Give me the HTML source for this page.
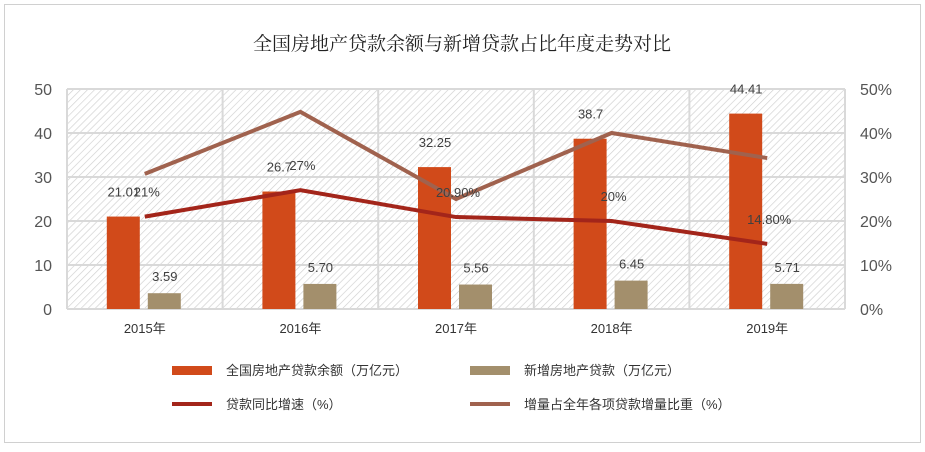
<!DOCTYPE html>
<html><head><meta charset="utf-8"><style>
body{margin:0;background:#fff;}
svg text{font-family:"Liberation Sans","Noto Sans CJK SC",sans-serif;}
svg text.title{font-family:"Liberation Serif","Noto Serif CJK SC",serif;}
</style></head><body>
<svg width="925" height="447" viewBox="0 0 925 447">
<defs>
<pattern id="hatch" width="5" height="5" patternUnits="userSpaceOnUse" patternTransform="rotate(45)">
<rect width="5" height="5" fill="#fff"/><line x1="0" y1="0" x2="0" y2="5" stroke="#cfcfcf" stroke-width="1.3"/>
</pattern>
</defs>
<rect x="4.5" y="4.5" width="916" height="438" fill="#fff" stroke="#d0d0d0"/>
<text class="title" x="462" y="50" text-anchor="middle" font-size="19" fill="#222" style="font-family:'Noto Serif CJK SC',serif">全国房地产贷款余额与新增贷款占比年度走势对比</text>
<rect x="67" y="89" width="778" height="220" fill="url(#hatch)"/>
<g id="grid"></g><g id="marks"></g><g id="labels"></g>
<g>
<rect x="172" y="366" width="40" height="9" fill="#d14a1a"/>
<text x="226" y="375" font-size="13" fill="#333">全国房地产贷款余额（万亿元）</text>
<rect x="470" y="366" width="40" height="9" fill="#a38f6c"/>
<text x="524" y="375" font-size="13" fill="#333">新增房地产贷款（万亿元）</text>
<line x1="172" y1="404" x2="212" y2="404" stroke="#a3251a" stroke-width="4"/>
<text x="226" y="409" font-size="13" fill="#333">贷款同比增速（%）</text>
<line x1="470" y1="404" x2="510" y2="404" stroke="#a0624e" stroke-width="4"/>
<text x="524" y="409" font-size="13" fill="#333">增量占全年各项贷款增量比重（%）</text>
</g>
</svg>
<script>
const categories=["2015年","2016年","2017年","2018年","2019年"];
const balance=[21.01,26.7,32.25,38.7,44.41];
const balanceLabels=["21.01","26.7","32.25","38.7","44.41"];
const newLoans=[3.59,5.70,5.56,6.45,5.71];
const newLabels=["3.59","5.70","5.56","6.45","5.71"];
const growth=[21,27,20.9,20,14.8];
const growthLabels=["21%","27%","20.90%","20%","14.80%"];
const share=[30.7,44.8,25,40,34.3];
const leftTicks=[0,10,20,30,40,50];
const rightTicks=[0,10,20,30,40,50];

const NS="http://www.w3.org/2000/svg";
const L=67,R=845,T=89,B=309;
const bw=(R-L)/categories.length;
const xc=i=>L+bw*(i+0.5);
const yL=v=>B-(v/50)*(B-T);
const yR=v=>B-(v/50)*(B-T);
function mk(tag,attrs,parent,text){const e=document.createElementNS(NS,tag);for(const k in attrs)e.setAttribute(k,attrs[k]);if(text!==undefined)e.textContent=text;document.getElementById(parent).appendChild(e);return e;}
leftTicks.forEach(t=>{
 const g=mk('line',{x1:L,x2:R,y1:yL(t),y2:yL(t),stroke:'#d9d9d9','stroke-width':2},'grid');
 
 
 const tx=mk('text',{x:52,y:yL(t)+6,'text-anchor':'end','font-size':16,fill:'#555'},'labels',String(t));
 
 
});
rightTicks.forEach(t=>{
 const tx=mk('text',{x:860,y:yR(t)+6,'font-size':16,fill:'#555'},'labels',t+'%');
 
 
});
for(let i=0;i<=categories.length;i++){
 const v=mk('line',{x1:L+bw*i,x2:L+bw*i,y1:T,y2:B,stroke:'#d9d9d9','stroke-width':2},'grid');
 
 
}
categories.forEach((c,i)=>{
 const tx=mk('text',{x:xc(i),y:333,'text-anchor':'middle','font-size':13,fill:'#333'},'labels',c);
 
 
 const b1=mk('rect',{x:xc(i)-38,y:yL(balance[i]),width:33,height:B-yL(balance[i]),fill:'#d14a1a'},'marks');
 
 
 const b2=mk('rect',{x:xc(i)+3,y:yL(newLoans[i]),width:33,height:B-yL(newLoans[i]),fill:'#a38f6c'},'marks');
 
 
 const l1=mk('text',{x:xc(i)-21,y:yL(balance[i])-20,'text-anchor':'middle','font-size':13,fill:'#404040'},'labels',balanceLabels[i]);
 
 
 const l2=mk('text',{x:xc(i)+20,y:yL(newLoans[i])-12,'text-anchor':'middle','font-size':13,fill:'#404040'},'labels',newLabels[i]);
 
 
 const l3=mk('text',{x:xc(i)+2,y:yR(growth[i])-20,'text-anchor':'middle','font-size':13,fill:'#404040'},'labels',growthLabels[i]);
 
 
});
const p2=mk('polyline',{points:share.map((v,i)=>xc(i)+','+yR(v)).join(' '),fill:'none',stroke:'#a0624e','stroke-width':4},'marks');


const p1=mk('polyline',{points:growth.map((v,i)=>xc(i)+','+yR(v)).join(' '),fill:'none',stroke:'#a3251a','stroke-width':4},'marks');


</script>
</body></html>
